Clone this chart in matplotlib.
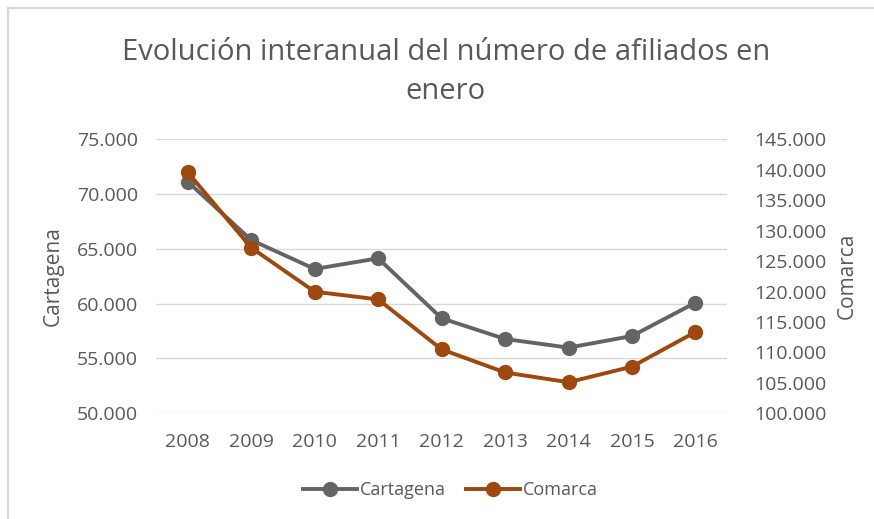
import matplotlib.pyplot as plt
from matplotlib.ticker import FuncFormatter
from matplotlib.lines import Line2D

plt.rcParams['font.family'] = ['Open Sans', 'DejaVu Sans']

# Data
years = ['2008', '2009', '2010', '2011', '2012', '2013', '2014', '2015', '2016']
cartagena = [71130, 65810, 63170, 64140, 58670, 56780, 55990, 57050, 60090]
comarca = [139580, 127200, 119970, 118700, 110500, 106700, 105100, 107660, 113350]

gray = '#646464'
orange = '#9E480E'
text_col = '#595959'

fig = plt.figure(figsize=(8.74, 5.19), dpi=100)
ax = fig.add_axes([0.1785, 0.2037, 0.6535, 0.5279])
ax2 = ax.twinx()

x = range(len(years))
l1, = ax.plot(x, cartagena, color=gray, marker='o', markersize=10, linewidth=2.8, label='Cartagena')
l2, = ax2.plot(x, comarca, color=orange, marker='o', markersize=10, linewidth=2.8, label='Comarca')

ax.set_xlim(-0.5, 8.5)
ax.set_ylim(50000, 75000)
ax.set_yticks(range(50000, 75001, 5000))
ax2.set_ylim(100000, 145000)
ax2.set_yticks(range(100000, 145001, 5000))

fmt = FuncFormatter(lambda v, p: f'{int(v):,}'.replace(',', '.'))
ax.yaxis.set_major_formatter(fmt)
ax2.yaxis.set_major_formatter(fmt)

ax.set_xticks(list(x))
ax.set_xticklabels(years)

ax.grid(axis='y', color='#D9D9D9', linewidth=1)
ax.set_axisbelow(True)
for a in (ax, ax2):
    for s in a.spines.values():
        s.set_visible(False)
    a.tick_params(length=0, colors=text_col, labelsize=14)
ax.tick_params(axis='y', pad=13)
ax2.tick_params(axis='y', pad=19.5)
ax.tick_params(axis='x', pad=14)

ax.set_ylabel('Cartagena', color=text_col, fontsize=15, labelpad=9)
ax2.set_ylabel('Comarca', color=text_col, fontsize=15, labelpad=7)

fig.text(0.51, 0.862, 'Evolución interanual del número de afiliados en\nenero',
         ha='center', va='center', fontsize=21, color=text_col, linespacing=1.45)

fig.legend(handles=[l1, l2], loc='center', bbox_to_anchor=(0.515, 0.055), ncol=2,
           frameon=False, fontsize=13, labelcolor=text_col, handlelength=3.0,
           columnspacing=1.1, handletextpad=0.15)

# chart border (only top and left edges visible in the screenshot)
fig.add_artist(Line2D([0.009, 0.009], [0.0, 0.984], transform=fig.transFigure,
                      color='#D9D9D9', linewidth=1.6))
fig.add_artist(Line2D([0.009, 1.0], [0.984, 0.984], transform=fig.transFigure,
                      color='#D9D9D9', linewidth=1.6))

fig.savefig('out.png', dpi=100)
